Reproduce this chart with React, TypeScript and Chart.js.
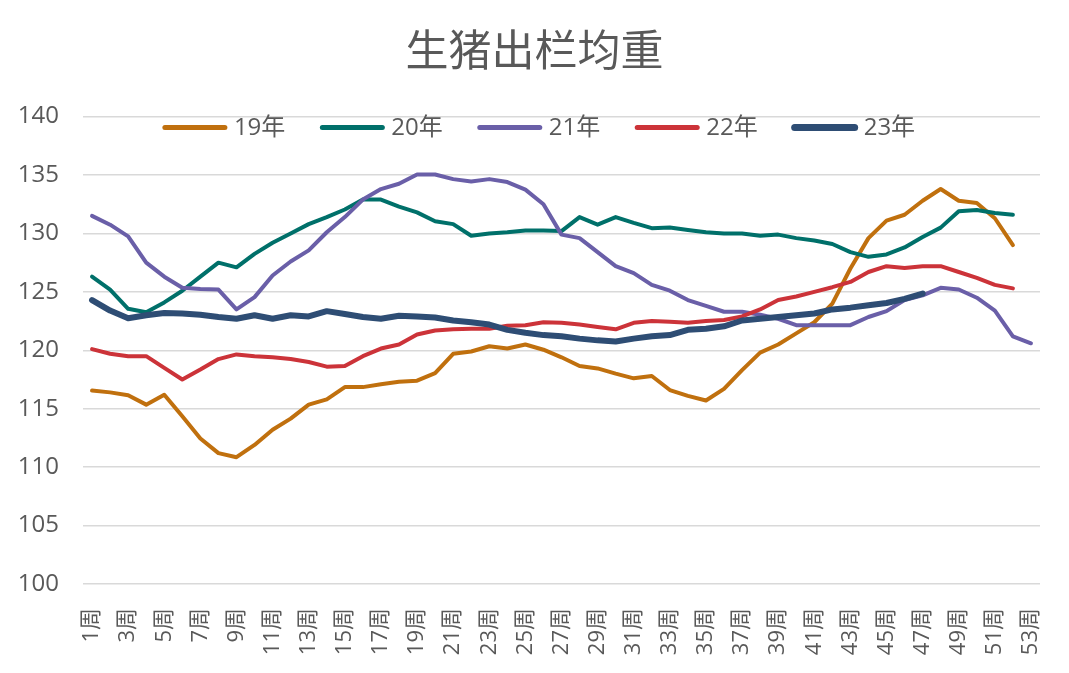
import React, { useEffect, useRef } from "react";
import { Chart, registerables } from "chart.js";

Chart.register(...registerables);

const weeks: string[] = [
  "1周", "2周", "3周", "4周", "5周", "6周", "7周", "8周", "9周", "10周",
  "11周", "12周", "13周", "14周", "15周", "16周", "17周", "18周", "19周", "20周",
  "21周", "22周", "23周", "24周", "25周", "26周", "27周", "28周", "29周", "30周",
  "31周", "32周", "33周", "34周", "35周", "36周", "37周", "38周", "39周", "40周",
  "41周", "42周", "43周", "44周", "45周", "46周", "47周", "48周", "49周", "50周",
  "51周", "52周", "53周",
];

const y19: number[] = [
  116.55, 116.4, 116.15, 115.35, 116.2, 114.35, 112.45, 111.2, 110.85, 111.9,
  113.2, 114.15, 115.35, 115.8, 116.85, 116.85, 117.1, 117.3, 117.4, 118.05,
  119.7, 119.9, 120.35, 120.15, 120.5, 120.05, 119.4, 118.65, 118.45, 118.0,
  117.6, 117.8, 116.6, 116.1, 115.7, 116.7, 118.3, 119.8, 120.5, 121.45,
  122.4, 124.0, 127.0, 129.6, 131.1, 131.6, 132.8, 133.8, 132.8, 132.6,
  131.3, 129.0,
];

const y20: number[] = [
  126.3, 125.2, 123.55, 123.25, 124.1, 125.1, 126.3, 127.5, 127.1, 128.25,
  129.2, 130.0, 130.8, 131.4, 132.05, 132.9, 132.9, 132.3, 131.8, 131.05,
  130.8, 129.8, 130.0, 130.1, 130.25, 130.25, 130.2, 131.4, 130.75, 131.4,
  130.9, 130.45, 130.5, 130.3, 130.1, 130.0, 130.0, 129.8, 129.9, 129.6,
  129.4, 129.1, 128.4, 128.0, 128.2, 128.8, 129.7, 130.5, 131.9, 132.0,
  131.75, 131.6,
];

const y21: number[] = [
  131.5, 130.75, 129.75, 127.5, 126.3, 125.35, 125.25, 125.2, 123.5, 124.55,
  126.4, 127.6, 128.55, 130.1, 131.4, 132.9, 133.8, 134.25, 135.05, 135.05,
  134.65, 134.45, 134.65, 134.4, 133.75, 132.5, 129.9, 129.6, 128.4, 127.2,
  126.6, 125.6, 125.1, 124.3, 123.8, 123.3, 123.3, 123.05, 122.7, 122.15,
  122.15, 122.15, 122.15, 122.85, 123.35, 124.3, 124.7, 125.35, 125.2, 124.5,
  123.4, 121.2, 120.6,
];

const y22: number[] = [
  120.1, 119.7, 119.5, 119.5, 118.5, 117.5, 118.35, 119.25, 119.65, 119.5,
  119.4, 119.25, 119.0, 118.6, 118.65, 119.5, 120.15, 120.5, 121.35, 121.7,
  121.8, 121.85, 121.85, 122.1, 122.15, 122.4, 122.35, 122.2, 122.0, 121.8,
  122.35, 122.5, 122.45, 122.35, 122.5, 122.6, 122.9, 123.5, 124.3, 124.6,
  125.0, 125.4, 125.85, 126.7, 127.2, 127.05, 127.2, 127.2, 126.7, 126.2,
  125.6, 125.3,
];

const y23: number[] = [
  124.3, 123.4, 122.75, 123.0, 123.2, 123.15, 123.05, 122.85, 122.7, 123.0,
  122.7, 123.0, 122.9, 123.35, 123.1, 122.85, 122.7, 122.95, 122.9, 122.8,
  122.55, 122.4, 122.2, 121.75, 121.5, 121.3, 121.2, 121.0, 120.85, 120.75,
  121.0, 121.2, 121.3, 121.75, 121.85, 122.05, 122.55, 122.7, 122.85, 123.0,
  123.15, 123.5, 123.65, 123.85, 124.05, 124.4, 124.85,
];

const seriesNames: string[] = ["19年", "20年", "21年", "22年", "23年"];
const seriesColors: string[] = ["#C0700E", "#00706A", "#6A5FA8", "#CC3339", "#2E4D74"];
const seriesWidths: number[] = [4, 4, 4, 4, 6];

const title = "生猪出栏均重";
const yMin = 100;
const yMax = 140;
const yStep = 5;

const FONT = "'Open Sans', 'Noto Sans CJK SC', sans-serif";
const TEXT = "#595959";

const inlineLegend = {
  id: "inlineLegend",
  afterDraw(chart: any) {
    const { ctx, chartArea } = chart;
    const ds = chart.data.datasets;
    ctx.save();
    ctx.font = `24px ${FONT}`;
    const lineLen = 66;
    const gapText = 6;
    const gapItem = 34;
    const widths = ds.map((d: any) => ctx.measureText(d.label).width);
    let total = 0;
    widths.forEach((w: number) => (total += lineLen + gapText + w));
    total += gapItem * (ds.length - 1);
    let x = chart.width / 2 + 4 - total / 2;
    const y = chartArea.top + 11;
    ds.forEach((d: any, i: number) => {
      ctx.strokeStyle = d.borderColor;
      ctx.lineWidth = d.borderWidth + 1;
      ctx.lineCap = "round";
      ctx.beginPath();
      ctx.moveTo(x + 3, y);
      ctx.lineTo(x + lineLen - 3, y);
      ctx.stroke();
      x += lineLen + gapText;
      ctx.fillStyle = TEXT;
      ctx.textBaseline = "middle";
      ctx.textAlign = "left";
      ctx.fillText(d.label, x, y + 1);
      x += widths[i] + gapItem;
    });
    ctx.restore();
  },
};

export default function App() {
  const ref = useRef<HTMLCanvasElement | null>(null);

  useEffect(() => {
    if (!ref.current) return;
    const allSeries = [y19, y20, y21, y22, y23];
    const chart = new Chart(ref.current, {
      type: "line",
      data: {
        labels: weeks,
        datasets: seriesNames.map((name, i) => ({
          label: name,
          data: allSeries[i],
          borderColor: seriesColors[i],
          backgroundColor: seriesColors[i],
          borderWidth: seriesWidths[i],
          pointRadius: 0,
          pointHoverRadius: 0,
          tension: 0,
          fill: false,
          borderJoinStyle: "round" as const,
          borderCapStyle: "round" as const,
          order: seriesNames.length - i,
        })),
      },
      options: {
        responsive: false,
        animation: false,
        devicePixelRatio: 1,
        layout: { padding: { left: 0, right: 0, top: 0, bottom: 0 } },
        plugins: {
          legend: { display: false },
          tooltip: { enabled: false },
          title: {
            display: true,
            text: title,
            color: TEXT,
            font: { family: "'Noto Sans CJK SC', sans-serif", size: 43, weight: "normal" },
            padding: { top: 24, bottom: 41 },
          },
        },
        scales: {
          x: {
            offset: true,
            grid: { display: false, drawTicks: false, offset: true },
            border: { display: false },
            ticks: {
              autoSkip: false,
              minRotation: 90,
              maxRotation: 90,
              padding: 24,
              color: TEXT,
              font: { family: FONT, size: 22 },
              callback: (_v: any, idx: number) => (idx % 2 === 0 ? weeks[idx] : ""),
            },
            afterFit: (scale: any) => {
              scale.height = 89;
              scale.paddingRight = 29;
              scale.paddingLeft = 0;
            },
          },
          y: {
            min: yMin,
            max: yMax,
            grid: { color: "#D9D9D9", lineWidth: 1.5, drawTicks: false },
            border: { display: false },
            ticks: {
              stepSize: yStep,
              padding: 24,
              color: TEXT,
              font: { family: FONT, size: 24 },
            },
            afterFit: (scale: any) => {
              scale.width = 83;
            },
          },
        },
      },
      plugins: [inlineLegend],
    });
    return () => chart.destroy();
  }, []);

  return (
    <div style={{ position: "fixed", left: 0, top: 0, width: 1069, height: 673, background: "#fff" }}>
      <canvas ref={ref} width={1069} height={673} />
    </div>
  );
}
